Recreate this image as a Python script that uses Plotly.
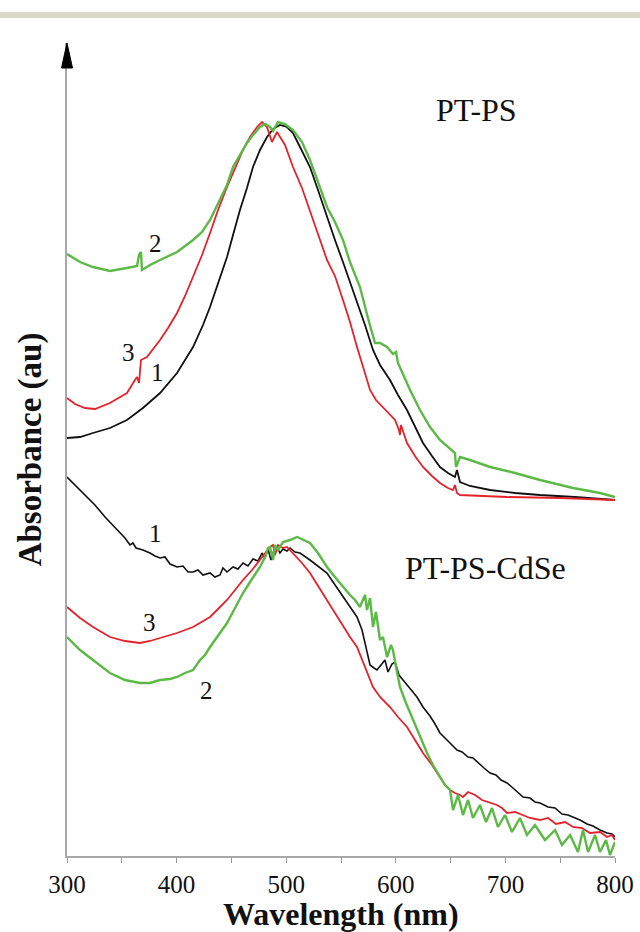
import plotly.graph_objects as go

# ---------------- data (wavelength in nm, absorbance in arbitrary units) -------------
ptps_1_wl = [300, 311.9, 323.7, 339.2, 354.7, 369.3, 384.9, 400.4, 415, 424.1, 430.5, 437.8,
             446, 451.5, 457.8, 464.2, 469.7, 476.1, 482.5, 488, 494.3, 500.7, 506.2, 512.6,
             521.7, 529, 537.2, 544.5, 551.8, 558.2, 564.6, 571.9, 579.2, 585.6, 594.7, 602,
             610.2, 617.5, 624.8, 633, 640.3, 647.6, 654, 655.8, 658.6, 667.7, 686, 708.8,
             731.6, 763.5, 800]
ptps_1_ab = [4.18, 4.19, 4.23, 4.28, 4.36, 4.48, 4.63, 4.83, 5.09, 5.31, 5.49, 5.73,
             5.99, 6.21, 6.46, 6.68, 6.89, 7.06, 7.19, 7.27, 7.31, 7.29, 7.23, 7.09,
             6.89, 6.66, 6.39, 6.16, 5.94, 5.74, 5.56, 5.31, 5.06, 4.91, 4.76, 4.61,
             4.46, 4.29, 4.13, 4.00, 3.89, 3.83, 3.79, 3.86, 3.74, 3.70, 3.66, 3.63,
             3.61, 3.59, 3.56]

ptps_3_wl = [300, 307.3, 316.4, 325.5, 339.2, 354.7, 362, 363.9, 365.7, 367.5, 373, 384.9,
             392.2, 400.4, 407.7, 415, 423.2, 430.5, 437.8, 446, 453.3, 460.6, 467, 473.4,
             477.9, 482.5, 487, 491.6, 498.9, 506.2, 514.4, 521.7, 529, 537.2, 544.5, 551.8,
             558.2, 564.6, 571.9, 576.5, 581.9, 588.3, 594.7, 599.3, 602.9, 603.8, 604.7,
             610.2, 617.5, 624.8, 633, 640.3, 647.6, 652.2, 654, 655.8, 658.6, 676.8,
             701.5, 749.8, 800]
ptps_3_ab = [4.58, 4.52, 4.48, 4.47, 4.53, 4.63, 4.76, 4.79, 4.73, 4.96, 4.99, 5.16,
             5.28, 5.43, 5.60, 5.79, 6.01, 6.23, 6.46, 6.69, 6.88, 7.06, 7.19, 7.29,
             7.34, 7.29, 7.14, 7.24, 7.11, 6.89, 6.68, 6.46, 6.22, 5.96, 5.80, 5.56,
             5.34, 5.09, 4.84, 4.66, 4.56, 4.49, 4.42, 4.36, 4.26, 4.21, 4.31,
             4.13, 4.00, 3.89, 3.80, 3.73, 3.68, 3.66, 3.71, 3.63, 3.61, 3.60,
             3.59, 3.58, 3.56]

ptps_2_wl = [300, 311.9, 323.7, 339.2, 354.7, 363.9, 365.7, 367.5, 368.4, 375.7, 384.9,
             400.4, 415, 423.2, 430.5, 439.6, 446, 451.5, 457.8, 464.2, 469.7, 476.1,
             480.7, 485.2, 488, 492.5, 498.9, 506.2, 514.4, 521.7, 529, 537.2, 544.5,
             551.8, 558.2, 567.3, 574.6, 581, 585.6, 592, 597.4, 600.2, 602, 613, 622.1,
             631.2, 640.3, 647.6, 654, 654.9, 658.6, 667.7, 686, 708.8, 731.6, 761.7,
             786.3, 800]
ptps_2_ab = [6.02, 5.94, 5.89, 5.85, 5.88, 5.90, 6.01, 6.04, 5.86, 5.91, 5.96,
             6.04, 6.16, 6.24, 6.36, 6.56, 6.71, 6.89, 7.01, 7.13, 7.21, 7.29,
             7.32, 7.29, 7.25, 7.34, 7.32, 7.26, 7.14, 6.96, 6.74, 6.49, 6.34,
             6.16, 5.94, 5.69, 5.38, 5.13, 5.13, 5.09, 5.02, 5.04, 4.93, 4.66, 4.46,
             4.29, 4.16, 4.09, 4.03, 3.89, 3.99, 3.96, 3.89, 3.83, 3.76, 3.68,
             3.63, 3.59]

cdse_1_wl = [300, 307.3, 316.4, 325.5, 334.7, 343.8, 352.9, 357.5, 360.2, 363, 369.3, 375.7,
             380.3, 384.9, 389.4, 394, 400.4, 405.8, 410.4, 415, 419.5, 424.1, 430.5, 435,
             439.6, 442.3, 446, 451.5, 456, 460.6, 465.1, 469.7, 474.3, 477.9, 480.7, 483.4,
             486.1, 488.9, 491.6, 494.3, 497.1, 500.7, 503.5, 508, 512.6, 521.7, 529, 537.2,
             542.7, 549.1, 556.4, 564.6, 569.2, 573.7, 576.5, 580.1, 582.8, 586.5, 590.1,
             592.9, 596.5, 599.3, 602.9, 606.6, 613, 619.3, 624.8, 631.2, 635.8, 640.3,
             646.7, 651.3, 655.8, 660.4, 665.9, 670.4, 675, 680.5, 686, 691.4, 696, 701.5,
             706.9, 711.5, 716.1, 722.4, 727, 731.6, 738.9, 745.3, 751.6, 757.1, 761.7,
             768.1, 774.5, 779.9, 786.3, 792.7, 797.3, 800]
cdse_1_ab = [3.79, 3.71, 3.61, 3.51, 3.39, 3.28, 3.18, 3.11, 3.13, 3.08, 3.06, 3.03,
             3.00, 2.98, 2.99, 2.92, 2.89, 2.90, 2.84, 2.84, 2.86, 2.81, 2.83, 2.79,
             2.81, 2.88, 2.84, 2.89, 2.87, 2.93, 2.90, 2.97, 2.95, 3.03, 2.98, 3.07,
             2.96, 3.06, 3.09, 3.03, 3.07, 3.05, 3.08, 3.04, 3.03, 2.96, 2.90, 2.83,
             2.74, 2.64, 2.53, 2.39, 2.26, 2.06, 1.91, 1.88, 1.86, 1.91, 1.96,
             1.84, 1.92, 1.94, 1.81, 1.76, 1.68, 1.59, 1.49, 1.40, 1.32, 1.23,
             1.16, 1.11, 1.06, 1.04, 0.99, 0.98, 0.93, 0.88, 0.83, 0.81, 0.76, 0.73,
             0.68, 0.63, 0.59, 0.58, 0.54, 0.53, 0.49, 0.48, 0.42, 0.41, 0.39,
             0.36, 0.32, 0.30, 0.26, 0.23, 0.22, 0.19]

cdse_3_wl = [300, 311.9, 323.7, 339.2, 352.9, 366.6, 375.7, 384.9, 400.4, 415, 423.2, 430.5,
             437.8, 446, 453.3, 460.6, 468.8, 476.1, 480.7, 485.2, 488, 489.8, 492.5, 497.1,
             500.7, 508, 514.4, 521.7, 529, 537.2, 544.5, 551.8, 558.2, 564.6, 571.9, 579.2,
             585.6, 594.7, 602, 610.2, 617.5, 624.8, 633, 640.3, 644.9, 649.5, 654, 658.6,
             661.3, 665.9, 672.3, 678.6, 686, 692.3, 696.9, 701.5, 708.8, 715.1, 722.4,
             731.6, 738.9, 746.2, 754.4, 761.7, 769.9, 777.2, 786.3, 792.7, 797.3, 800]
cdse_3_ab = [2.49, 2.38, 2.29, 2.19, 2.15, 2.13, 2.15, 2.18, 2.23, 2.29, 2.34, 2.39,
             2.47, 2.56, 2.66, 2.76, 2.86, 2.96, 3.03, 3.09, 3.11, 3.01, 3.11, 3.08,
             3.09, 3.01, 2.93, 2.83, 2.70, 2.56, 2.43, 2.29, 2.19, 2.09, 1.89, 1.69,
             1.59, 1.49, 1.39, 1.29, 1.16, 1.03, 0.91, 0.79, 0.71, 0.66, 0.63, 0.61,
             0.59, 0.64, 0.61, 0.56, 0.53, 0.51, 0.48, 0.43, 0.44, 0.41, 0.38,
             0.36, 0.38, 0.32, 0.34, 0.29, 0.28, 0.23, 0.24, 0.19, 0.21, 0.16]

cdse_2_wl = [300, 311.9, 323.7, 339.2, 352.9, 366.6, 375.7, 384.9, 394, 400.4, 407.7, 415,
             421.4, 425.9, 430.5, 435, 439.6, 446, 453.3, 460.6, 467, 471.5, 476.1, 480.7,
             483.4, 485.2, 488, 489.8, 492.5, 497.1, 503.5, 509.9, 515.3, 521.7, 529, 537.2,
             544.5, 551.8, 558.2, 562.8, 567.3, 571.9, 573.7, 576.5, 579.2, 581.9, 585.6,
             588.3, 592, 595.6, 597.4, 601.1, 603.8, 609.3, 615.7, 622.1, 628.5, 633.9,
             640.3, 644.9, 649.5, 652.2, 656.8, 661.3, 665.9, 670.4, 676.8, 682.3, 687.8,
             693.2, 699.6, 706, 713.3, 719.7, 727, 736.1, 745.3, 751.6, 759, 766.2, 770.8,
             775.4, 781.8, 786.3, 791.8, 795.4, 800]
cdse_2_ab = [2.19, 2.06, 1.96, 1.83, 1.76, 1.73, 1.73, 1.76, 1.77, 1.79, 1.83, 1.86,
             1.96, 2.01, 2.09, 2.16, 2.24, 2.33, 2.48, 2.63, 2.74, 2.81, 2.89, 2.99,
             3.08, 3.09, 2.96, 3.11, 3.06, 3.14, 3.16, 3.19, 3.16, 3.13, 3.03, 2.89,
             2.79, 2.69, 2.61, 2.56, 2.49, 2.61, 2.46, 2.58, 2.29, 2.44, 2.16,
             2.19, 1.99, 2.11, 2.06, 1.84, 1.69, 1.53, 1.36, 1.19, 1.03, 0.91,
             0.79, 0.71, 0.66, 0.46, 0.61, 0.41, 0.56, 0.38, 0.51, 0.34, 0.48,
             0.29, 0.41, 0.24, 0.38, 0.21, 0.31, 0.16, 0.26, 0.11, 0.21, 0.04, 0.26,
             0.04, 0.21, 0.04, 0.16, 0.01, 0.14]

x_ticks = [300, 350, 400, 450, 500, 550, 600, 650, 700, 750, 800]
x_tick_text = ["300", "", "400", "", "500", "", "600", "", "700", "", "800"]

# curve number labels: (text, wavelength, absorbance)
curve_labels = [("2", 380.3, 6.13), ("3", 355.7, 5.04), ("1", 383.0, 4.84),
                ("1", 380.3, 3.23), ("3", 375.7, 2.34), ("2", 427.7, 1.66)]
group_labels = [("PT-PS", 673.2, 7.46), ("PT-PS-CdSe", 681.4, 2.88)]
x_title = "Wavelength (nm)"
y_title = "Absorbance (au)"

# ---------------- styling -------------
RED = "#e5222b"
GREEN = "#5cb946"
BLACK = "#111111"
FONT = "Liberation Serif, Times New Roman, serif"

fig = go.Figure()
series = [
    (ptps_1_wl, ptps_1_ab, BLACK, 1.8),
    (ptps_3_wl, ptps_3_ab, RED, 1.8),
    (ptps_2_wl, ptps_2_ab, GREEN, 2.4),
    (cdse_1_wl, cdse_1_ab, BLACK, 1.6),
    (cdse_3_wl, cdse_3_ab, RED, 1.8),
    (cdse_2_wl, cdse_2_ab, GREEN, 2.4),
]
for wl, ab, col, w in series:
    fig.add_trace(go.Scatter(x=wl, y=ab, mode="lines",
                             line=dict(color=col, width=w), showlegend=False,
                             hoverinfo="skip"))

W, H = 640, 932
L, R, T, B = 67, 25, 43, 76
pw, ph = W - L - R, H - T - B

annotations = []
for t, x, y in curve_labels:
    annotations.append(dict(text=t, x=x, y=y, xref="x", yref="y", showarrow=False,
                            font=dict(family=FONT, size=25, color="#111")))
for t, x, y in group_labels:
    annotations.append(dict(text=t, x=x, y=y, xref="x", yref="y", showarrow=False,
                            font=dict(family=FONT, size=32, color="#111")))
# x-axis title placed below the tick labels
annotations.append(dict(text=f"<b>{x_title}</b>", x=0.5, y=-(895 - (H - B)) / ph,
                        xref="paper", yref="paper", xanchor="center", yanchor="top",
                        showarrow=False, borderpad=0,
                        font=dict(family=FONT, size=32, color="#111")))

shapes = [
    # top beige strip
    dict(type="rect", xref="paper", yref="paper",
         x0=-L / pw, x1=(W - L) / pw, y0=(H - B - 18) / ph, y1=(H - B - 12) / ph,
         fillcolor="#ddd7c7", line=dict(width=0), layer="above"),
    # arrow head on y axis
    dict(type="path", xref="paper", yref="paper",
         path=f"M {-5.5 / pw},{1 - 25 / ph} L {5.5 / pw},{1 - 25 / ph} L 0,1 Z",
         fillcolor="black", line=dict(color="black", width=1), layer="above"),
]

fig.update_layout(
    width=W, height=H,
    margin=dict(l=L, r=R, t=T, b=B, pad=0, autoexpand=False),
    paper_bgcolor="white", plot_bgcolor="white",
    font=dict(family=FONT, color="#111"),
    annotations=annotations, shapes=shapes,
    xaxis=dict(range=[300, 800], tickmode="array", tickvals=x_ticks, ticktext=x_tick_text,
               ticks="outside", ticklen=5, tickwidth=1.2, tickcolor="#9a9a9a",
               showline=True, linecolor="#a8a8a8", linewidth=1.5, showgrid=False,
               zeroline=False, automargin=False,
               tickfont=dict(family=FONT, size=25, color="#111")),
    yaxis=dict(range=[0, (H - B - T) / 100], showticklabels=False, ticks="",
               showline=True, linecolor="#a8a8a8", linewidth=1.5, showgrid=False,
               zeroline=False, automargin=False,
               title=dict(text=f"<b>{y_title}</b>", standoff=14,
                          font=dict(family=FONT, size=33, color="#111"))),
)

fig.write_html("out.html")
